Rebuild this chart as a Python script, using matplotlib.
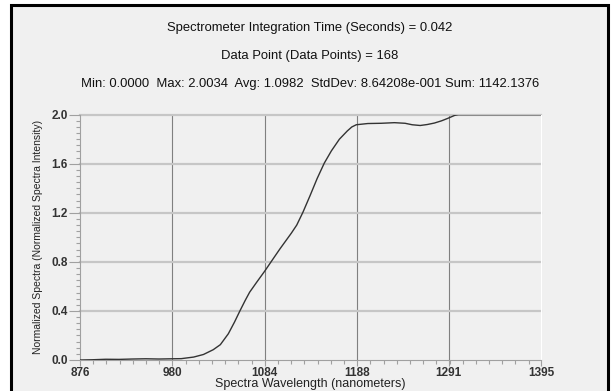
import matplotlib
matplotlib.use("Agg")
import matplotlib.pyplot as plt
from matplotlib.ticker import AutoMinorLocator
from matplotlib.patches import Rectangle

plt.rcParams['font.family'] = ['Liberation Sans', 'DejaVu Sans']

# spectrum
wavelength = [876, 890, 905, 920, 935, 950, 965, 980, 990, 1004, 1015, 1026,
              1034, 1043, 1050, 1056, 1062, 1067, 1075, 1084, 1092, 1101,
              1108, 1114, 1120, 1127, 1135, 1143, 1151, 1159, 1168, 1177,
              1182, 1187, 1200, 1215, 1230, 1242, 1250, 1259, 1267, 1275,
              1283, 1290, 1298, 1302, 1395]
intensity = [0.0, 0.002, 0.006, 0.005, 0.008, 0.010, 0.008, 0.010, 0.011,
             0.024, 0.045, 0.084, 0.125, 0.214, 0.310, 0.400, 0.486, 0.553,
             0.635, 0.725, 0.810, 0.905, 0.975, 1.035, 1.100, 1.205, 1.340,
             1.480, 1.605, 1.705, 1.800, 1.868, 1.900, 1.918, 1.928, 1.930,
             1.935, 1.930, 1.918, 1.912, 1.920, 1.932, 1.950, 1.970, 1.995,
             2.0, 2.0]

xticks = [876, 980, 1084, 1188, 1291, 1395]
yticks = [0.0, 0.4, 0.8, 1.2, 1.6, 2.0]
title_lines = ["Spectrometer Integration Time (Seconds) = 0.042",
               "Data Point (Data Points) = 168",
               "Min: 0.0000  Max: 2.0034  Avg: 1.0982  StdDev: 8.64208e-001 Sum: 1142.1376"]

bg = '#f0f0f0'
fig = plt.figure(figsize=(6.15, 3.91), dpi=100, facecolor='white')
frame = Rectangle((11/615, -0.05), 597/615, 1.05 - 5/391,
                  transform=fig.transFigure, facecolor=bg,
                  edgecolor='black', linewidth=2.2, zorder=-10)
fig.patches.append(frame)

ax = fig.add_axes([80/615, 1 - 360/391, 461/615, 245.3/391])
ax.set_facecolor(bg)
ax.plot(wavelength, intensity, color='#333333', linewidth=1.0, zorder=3)

ax.set_xlim(876, 1395)
ax.set_ylim(0, 2.0)
ax.set_xticks(xticks)
ax.set_yticks(yticks)
ax.set_yticklabels(["%.1f" % v for v in yticks])
ax.xaxis.set_minor_locator(AutoMinorLocator(7))
ax.yaxis.set_minor_locator(AutoMinorLocator(8))

for v in xticks[1:-1]:
    ax.axvline(v, color='#808080', linewidth=0.8, zorder=1)
for v in yticks[1:]:
    ax.axhline(v, color='#c6c6c6', linewidth=1.6, zorder=1, clip_on=False)

ax.spines['top'].set_visible(False)
ax.spines['right'].set_color('white')
ax.spines['left'].set_color('#a0a0a0')
ax.spines['bottom'].set_color('#a0a0a0')
ax.spines['left'].set_linewidth(0.8)
ax.spines['bottom'].set_linewidth(0.8)

ax.tick_params(which='major', length=8, width=0.8, color='#a0a0a0',
               labelsize=8.5, labelcolor='#333333', pad=1)
ax.tick_params(which='minor', length=3, width=0.8, color='#a0a0a0')
ax.tick_params(axis='x', which='major', length=4, pad=1)
for lab in ax.get_xticklabels() + ax.get_yticklabels():
    lab.set_fontweight('bold')

ax.set_xlabel("Spectra Wavelength (nanometers)", fontsize=9,
              color='#222222', labelpad=-1)
ax.set_ylabel("Normalized Spectra (Normalized Spectra Intensity)", fontsize=7.5,
              color='#222222', labelpad=6)

for i, t in enumerate(title_lines):
    fig.text(310/615, 1 - (28 + 28*i)/391, t, ha='center', va='center',
             fontsize=9.4, color='#111111')

fig.savefig("out.png", dpi=100, facecolor='white')
